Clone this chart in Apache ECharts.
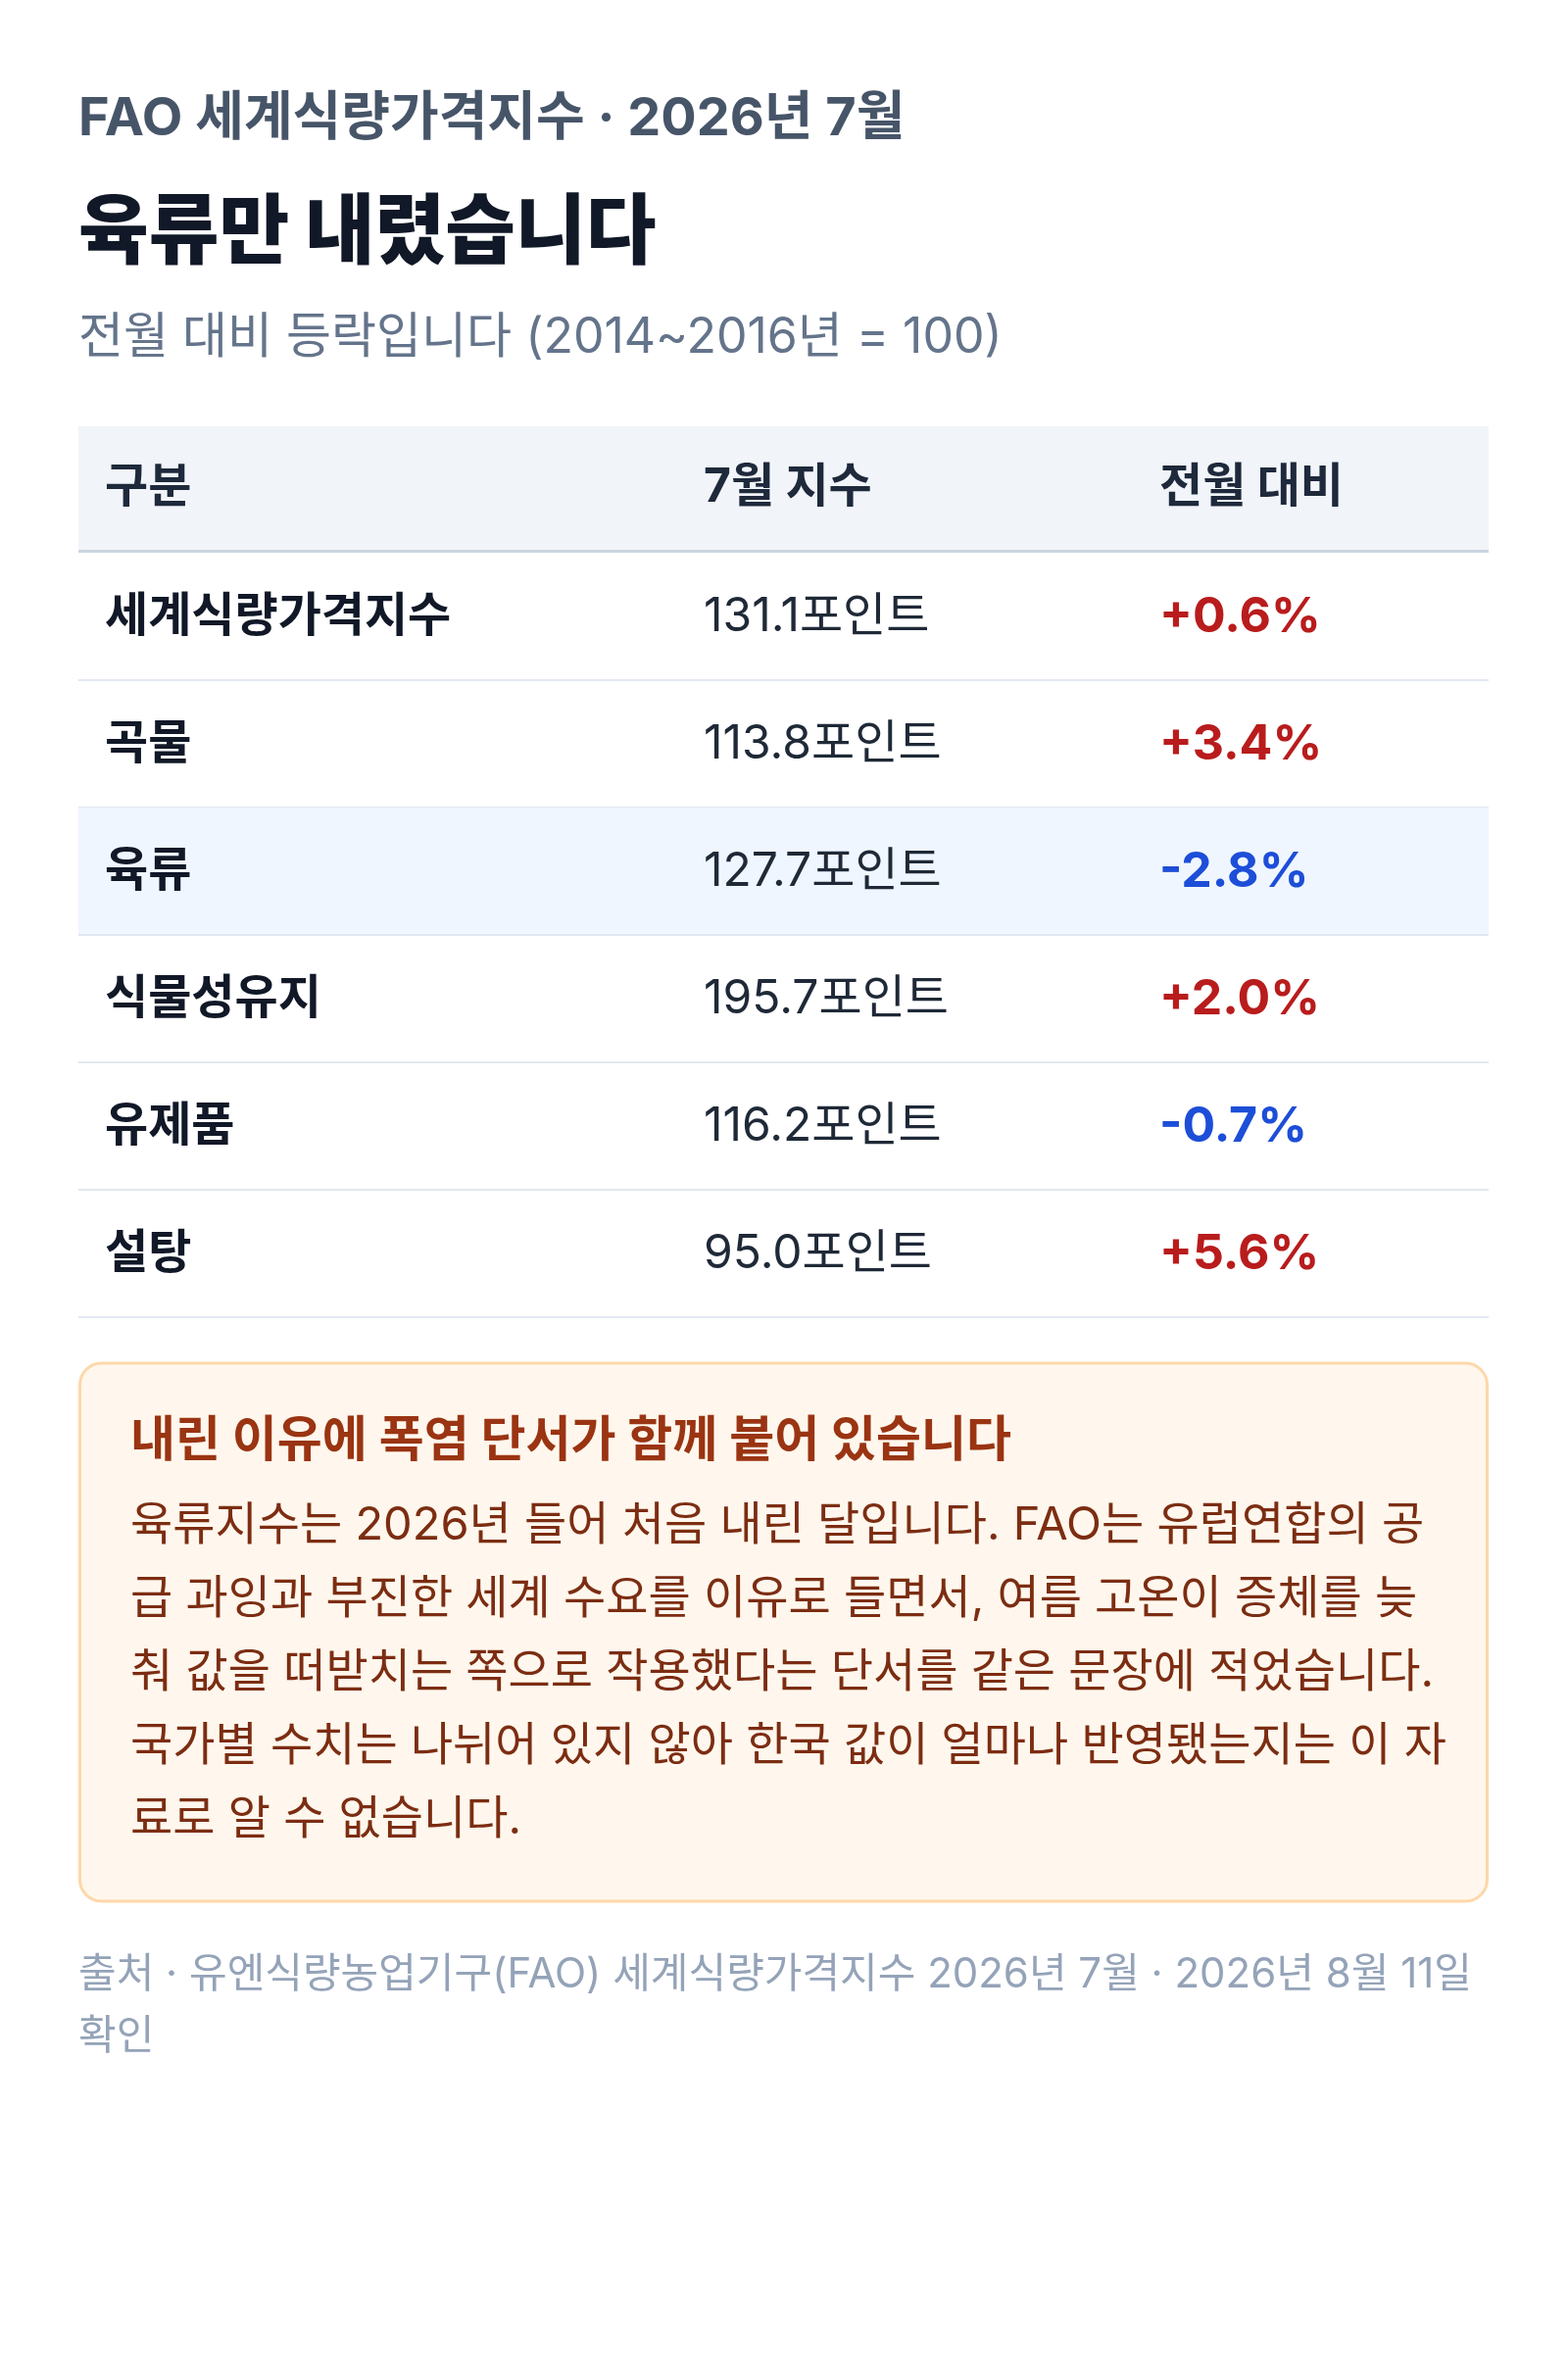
<!DOCTYPE html>
<html>
<head>
<meta charset="utf-8">
<script src="https://cdn.jsdelivr.net/npm/echarts@6/dist/echarts.min.js"></script>
<style>
html, body { margin: 0; padding: 0; background: #ffffff; }
#chart { width: 1600px; height: 2402px; }
</style>
</head>
<body>
<div id="chart"></div>
<script>
var headers = ['구분', '7월 지수', '전월 대비'];
var categories = ['세계식량가격지수', '곡물', '육류', '식물성유지', '유제품', '설탕'];
var indexValues = [131.1, 113.8, 127.7, 195.7, 116.2, 95.0];
var changes = [0.6, 3.4, -2.8, 2.0, -0.7, 5.6];
var highlightRow = 2;
var noteTitle = '내린 이유에 폭염 단서가 함께 붙어 있습니다';
var noteLines = [
    '육류지수는 2026년 들어 처음 내린 달입니다. FAO는 유럽연합의 공',
    '급 과잉과 부진한 세계 수요를 이유로 들면서, 여름 고온이 증체를 늦',
    '춰 값을 떠받치는 쪽으로 작용했다는 단서를 같은 문장에 적었습니다.',
    '국가별 수치는 나뉘어 있지 않아 한국 값이 얼마나 반영됐는지는 이 자',
    '료로 알 수 없습니다.'
];
var sourceLines = [
    '출처 · 유엔식량농업기구(FAO) 세계식량가격지수 2026년 7월 · 2026년 8월 11일',
    '확인'
];

var chart = echarts.init(document.getElementById('chart'));
var FONT = 'Inter, "Noto Sans CJK KR", sans-serif';
var L = 80, R = 1519;
var colX = [107, 718, 1183];
var rowStart = 563, rowH = 130;

function txt(x, y, s, size, weight, color) {
    return {
        type: 'text', x: x, y: y,
        style: { text: s, font: weight + ' ' + size + 'px ' + FONT, fill: color, textVerticalAlign: 'middle' }
    };
}

var els = [];
els.push(txt(L, 122, 'FAO 세계식량가격지수 · 2026년 7월', 54, 'bold', '#475569'));
els.push(txt(L, 240, '육류만 내렸습니다', 78, '900', '#111827'));
els.push(txt(L, 345, '전월 대비 등락입니다 (2014~2016년 = 100)', 50, 'normal', '#64748b'));

// header
els.push({ type: 'rect', shape: { x: L, y: 435, width: R - L, height: 128 }, style: { fill: '#f1f5f9' } });
els.push({ type: 'rect', shape: { x: L, y: 561, width: R - L, height: 3 }, style: { fill: '#cbd5e1' } });
for (var h = 0; h < headers.length; h++) {
    els.push(txt(colX[h], 498, headers[h], 48, 'bold', '#1e293b'));
}

// rows
for (var i = 0; i < categories.length; i++) {
    var rowY = rowStart + i * rowH;
    var cy = rowY + rowH / 2 + 2;
    if (i === highlightRow) {
        els.push({ type: 'rect', shape: { x: L, y: rowY + 1, width: R - L, height: rowH - 1 }, style: { fill: '#eff6ff' } });
    }
    els.push({ type: 'rect', shape: { x: L, y: rowY + rowH, width: R - L, height: 2 }, style: { fill: '#e2e8f0' } });
    els.push(txt(colX[0], cy, categories[i], 48, 'bold', '#111827'));
    els.push(txt(colX[1], cy, indexValues[i].toFixed(1) + '포인트', 48, 'normal', '#1f2937'));
    var c = changes[i];
    els.push(txt(colX[2], cy, (c >= 0 ? '+' : '') + c.toFixed(1) + '%', 50, 'bold', c >= 0 ? '#b91c1c' : '#1d4ed8'));
}

// note box
els.push({
    type: 'rect', shape: { x: L + 1.5, y: 1391, width: R - L - 3, height: 549, r: 22 },
    style: { fill: '#fff7ed', stroke: '#fed7aa', lineWidth: 3 }
});
els.push(txt(133, 1471, noteTitle, 50, 'bold', '#9a3412'));
for (var k = 0; k < noteLines.length; k++) {
    els.push(txt(133, 1557 + k * 75, noteLines[k], 47, 'normal', '#7c2d12'));
}

for (var s = 0; s < sourceLines.length; s++) {
    els.push(txt(L, 2015 + s * 63, sourceLines[s], 42, 'normal', '#94a3b8'));
}

chart.setOption({
    backgroundColor: '#ffffff',
    animation: false,
    graphic: { elements: els }
});
window.onresize = chart.resize;
</script>
</body>
</html>
